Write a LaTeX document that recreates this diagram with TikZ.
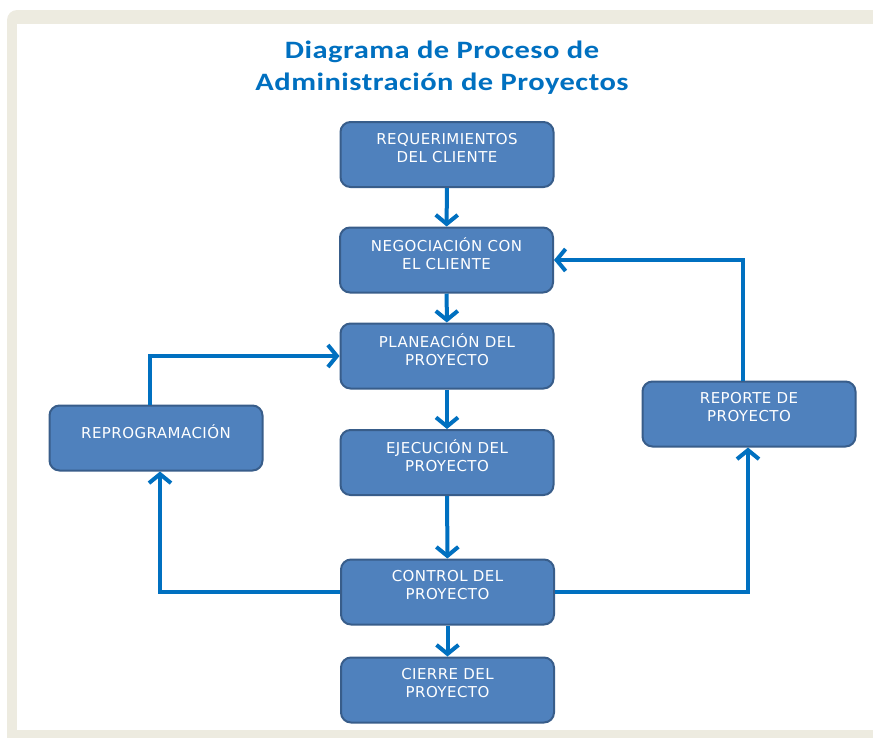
\documentclass[tikz,border=0pt]{standalone}
\usepackage{fontspec}
\usepackage{tikz}
\usetikzlibrary{arrows.meta}
\newfontfamily\boxfont[LetterSpace=3]{DejaVu Sans}
\newfontfamily\titlefont[FakeStretch=1.22,LetterSpace=2]{Carlito}
\definecolor{marco}{RGB}{237,235,224}
\definecolor{azul}{RGB}{0,112,192}
\definecolor{cajafondo}{RGB}{79,129,189}
\definecolor{cajaborde}{RGB}{56,93,138}

\tikzset{
  proc/.style={draw=cajaborde,fill=cajafondo,line width=2pt,rounded corners=10pt,
    minimum width=213pt,minimum height=65pt,inner sep=0pt},
  proctxt/.style={text=white,align=center,
    font=\boxfont\fontsize{15}{18}\selectfont},
  flow/.style={azul,line width=4pt,-{Straight Barb[length=9pt,width=22pt,line width=4pt]}}
}

\begin{document}
\begin{tikzpicture}[x=1pt,y=-1pt]
        \useasboundingbox (0,0) rectangle (873,737);
        % fondo
        \fill[marco,rounded corners=10pt] (7,10) rectangle (900,760);
        \fill[white] (17,24) rectangle (873,730);
        \node[azul,align=center,font=\titlefont\bfseries\fontsize{25}{32}\selectfont]
        (titulo) at (442,68) {Diagrama de Proceso de\\Administración de Proyectos};
        % cajas
        \node[proc,label={[proctxt,yshift=6.5pt]center:REQUERIMIENTOS\\DEL CLIENTE}]
        (req) at (447,154.5) {};
        \node[proc,label={[proctxt,yshift=6.5pt]center:NEGOCIACIÓN CON\\EL CLIENTE}]
        (neg) at (446.5,260) {};
        \node[proc,label={[proctxt,yshift=6.5pt]center:PLANEACIÓN DEL\\PROYECTO}]
        (plan) at (447,356) {};
        \node[proc,label={[proctxt,yshift=6.5pt]center:EJECUCIÓN DEL\\PROYECTO}]
        (ejec) at (447,462.5) {};
        \node[proc,label={[proctxt,yshift=7pt]center:CONTROL DEL\\PROYECTO}]
        (ctrl) at (447.5,592) {};
        \node[proc,label={[proctxt,yshift=7pt]center:CIERRE DEL\\PROYECTO}]
        (cierre) at (447.5,690) {};
        \node[proc,label={[proctxt,yshift=6pt]center:REPROGRAMACIÓN}]
        (reprog) at (156,438) {};
        \node[proc,label={[proctxt,yshift=7pt]center:REPORTE DE\\PROYECTO}]
        (reporte) at (749,414) {};
        % flechas
        \draw[flow] (req) -- (neg);
        \draw[flow] (neg) -- (plan);
        \draw[flow] (plan) -- (ejec);
        \draw[flow] (ejec) -- (ctrl);
        \draw[flow] (ctrl) -- (cierre);
        \draw[flow] (ctrl.west) -| ([xshift=4pt]reprog.south);
        \draw[flow] ([xshift=-6pt]reprog.north) |- (plan.west);
        \draw[flow] (ctrl.east) -| ([xshift=-1pt]reporte.south);
        \draw[flow] ([xshift=-6pt]reporte.north) |- (neg.east);
      \end{tikzpicture}
\end{document}
